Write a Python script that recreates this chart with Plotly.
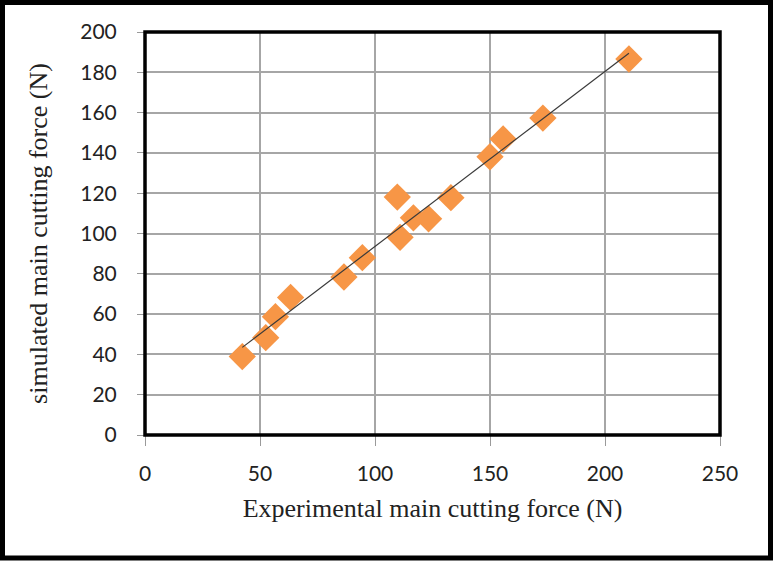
import numpy as np
import plotly.graph_objects as go

# Measured vs. simulated main cutting force (N)
experimental = [42.3, 52.5, 56.7, 63.3, 86.5, 94.5, 109.7, 110.9, 116.7, 123.3,
                133.0, 150.0, 155.7, 173.0, 210.4]
simulated = [38.9, 48.3, 58.7, 68.3, 78.4, 88.0, 118.1, 98.1, 107.8, 107.3,
             117.8, 138.1, 146.9, 157.3, 186.6]

x_ticks = [0, 50, 100, 150, 200, 250]
y_ticks = [0, 20, 40, 60, 80, 100, 120, 140, 160, 180, 200]

# Least-squares trendline over the data span
slope, intercept = np.polyfit(experimental, simulated, 1)
fit_x = np.array([min(experimental), max(experimental)])
fit_y = slope * fit_x + intercept

W, H = 773, 561
L, R, T, B = 145, 53, 32, 126
pw, ph = W - L - R, H - T - B

def px_to_paper_x(px):
    return (px - L) / pw

def px_to_paper_y(py):
    return (H - B - py) / ph

fig = go.Figure()
fig.add_trace(go.Scatter(
    x=experimental, y=simulated, mode="markers",
    marker=dict(symbol="diamond", size=21, color="#F79646", line=dict(width=0)),
    showlegend=False, cliponaxis=False,
))
fig.add_trace(go.Scatter(
    x=fit_x, y=fit_y, mode="lines",
    line=dict(color="#3a3a3a", width=1.2),
    showlegend=False,
))

tick_font = dict(family="Lato, Carlito, sans-serif", size=21, color="#222222")
title_font = dict(family="Liberation Serif, Times New Roman, serif", size=26, color="#222222")

fig.update_layout(
    width=W, height=H,
    margin=dict(l=L, r=R, t=T, b=B),
    paper_bgcolor="white", plot_bgcolor="white",
    xaxis=dict(
        range=[0, 250], tickvals=x_ticks, ticks="outside", ticklen=10, tickwidth=1,
        tickcolor="#9a9a9a", showgrid=True, gridcolor="#a6a6a6", gridwidth=1.5,
        zeroline=False, showline=False, tickfont=tick_font, ticklabelstandoff=10,
        title=dict(text="Experimental main cutting force (N)", font=title_font, standoff=14),
    ),
    yaxis=dict(
        range=[0, 200], tickvals=y_ticks, ticks="outside", ticklen=7, tickwidth=1,
        tickcolor="#9a9a9a", showgrid=True, gridcolor="#a6a6a6", gridwidth=1.5,
        zeroline=False, showline=False, tickfont=tick_font, ticklabelstandoff=16,
        title=dict(text="simulated main cutting force (N)", font=title_font, standoff=25),
    ),
    shapes=[
        # plot-area frame
        dict(type="rect", xref="paper", yref="paper", x0=0, y0=0, x1=1, y1=1,
             line=dict(color="black", width=3.5), layer="above"),
        # outer chart frame
        dict(type="rect", xref="paper", yref="paper",
             x0=px_to_paper_x(2.5), x1=px_to_paper_x(770.5),
             y0=px_to_paper_y(558), y1=px_to_paper_y(2.5),
             line=dict(color="black", width=5), layer="above"),
    ],
)

fig.write_html("out.html")
